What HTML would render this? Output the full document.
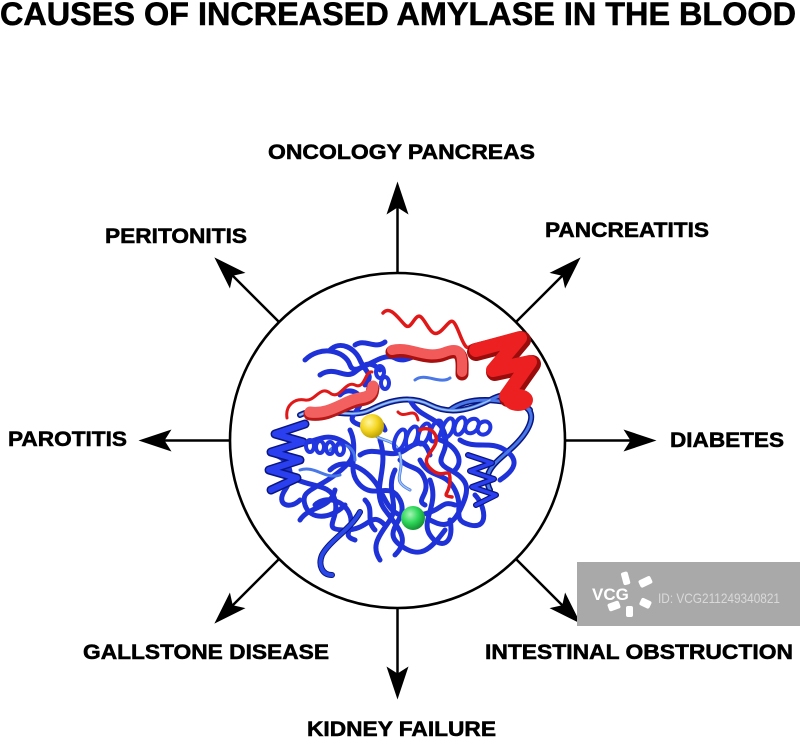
<!DOCTYPE html>
<html><head><meta charset="utf-8"><style>
html,body{margin:0;padding:0;background:#fff;}
svg{display:block;}
text{font-family:"Liberation Sans",Arial,sans-serif;font-weight:bold;fill:#000;}
.lb{stroke:#000;stroke-width:0.55px;}
</style></head><body>
<svg width="800" height="737" viewBox="0 0 800 737" xmlns="http://www.w3.org/2000/svg">
<defs>
<radialGradient id="gy" cx="0.38" cy="0.35" r="0.7"><stop offset="0" stop-color="#fff7a0"/><stop offset="0.5" stop-color="#f5d623"/><stop offset="1" stop-color="#b59a00"/></radialGradient>
<radialGradient id="gg" cx="0.38" cy="0.35" r="0.7"><stop offset="0" stop-color="#a8f5b8"/><stop offset="0.5" stop-color="#2fd85a"/><stop offset="1" stop-color="#118a30"/></radialGradient>
<g id="arr"><line x1="167" y1="0" x2="236" y2="0" stroke="#000" stroke-width="2.5"/><polygon points="259,0 226,-11 233,0 226,11" fill="#000"/></g>
</defs>

<text class="lb" x="0" y="25" font-size="32" textLength="796" lengthAdjust="spacingAndGlyphs">CAUSES OF INCREASED AMYLASE IN THE BLOOD</text>

<g transform="translate(397.5,440.5)">
<circle cx="0" cy="0" r="167.5" fill="none" stroke="#000" stroke-width="2.6"/>
<use href="#arr" transform="rotate(0)"/>
<use href="#arr" transform="rotate(45)"/>
<use href="#arr" transform="rotate(90)"/>
<use href="#arr" transform="rotate(135)"/>
<use href="#arr" transform="rotate(180)"/>
<use href="#arr" transform="rotate(225)"/>
<use href="#arr" transform="rotate(270)"/>
<use href="#arr" transform="rotate(315)"/>
</g>

<text class="lb" x="268" y="159" font-size="21" textLength="267" lengthAdjust="spacingAndGlyphs">ONCOLOGY PANCREAS</text>
<text class="lb" x="105" y="243" font-size="21" textLength="142" lengthAdjust="spacingAndGlyphs">PERITONITIS</text>
<text class="lb" x="545" y="237" font-size="21" textLength="164" lengthAdjust="spacingAndGlyphs">PANCREATITIS</text>
<text class="lb" x="8" y="446" font-size="21" textLength="119" lengthAdjust="spacingAndGlyphs">PAROTITIS</text>
<text class="lb" x="670" y="447" font-size="21" textLength="114" lengthAdjust="spacingAndGlyphs">DIABETES</text>
<text class="lb" x="83" y="659" font-size="21" textLength="246" lengthAdjust="spacingAndGlyphs">GALLSTONE DISEASE</text>
<text class="lb" x="485" y="659" font-size="21" textLength="308" lengthAdjust="spacingAndGlyphs">INTESTINAL OBSTRUCTION</text>
<text class="lb" x="307" y="736" font-size="21" textLength="189" lengthAdjust="spacingAndGlyphs">KIDNEY FAILURE</text>

<!-- protein -->
<g fill="none" stroke-linecap="round" stroke-linejoin="round">
 <g stroke="#0a1680" stroke-width="6">
  <path d="M300,415 C320,405 350,420 370,410 S410,395 430,405 S470,410 490,400 S515,395 530,410"/>
  <path d="M450,410 C470,395 500,400 520,405 S530,430 515,445 S480,470 490,490"/>
 </g>
 <g stroke="#1e32d8" stroke-width="5">
  <path d="M305,360 C320,345 345,350 350,365 S380,350 395,358 S420,345 440,355"/>
  <path d="M330,350 C340,340 355,348 360,360 S375,375 365,385"/>
  <path d="M320,375 C335,365 345,380 355,372 S370,360 380,370"/>
  <path d="M285,470 C300,490 330,480 335,500 S320,530 345,530 S370,510 385,525"/>
  <path d="M330,470 C345,455 370,470 380,490 S395,520 420,515 S440,500 455,505"/>
  <path d="M380,440 C390,470 370,490 385,510 S410,540 395,555"/>
  <path d="M350,430 C360,450 345,470 360,485 S390,480 400,500 S380,530 400,545 S430,550 445,530"/>
  <path d="M410,400 C420,420 440,415 445,435 S430,460 450,470 S470,490 460,510 S440,525 430,520"/>
  <path d="M290,440 C310,450 320,430 340,440 S355,460 335,475 S300,490 305,505 S330,520 345,505"/>
  <path d="M420,460 C430,480 445,470 455,490 S450,520 470,525 S485,505 475,495"/>
  <path d="M395,470 C385,490 400,505 390,520 S370,545 380,560"/>
  <path d="M315,505 C325,495 345,500 350,515 S340,535 355,540"/>
  <path d="M430,480 C440,505 420,520 430,535 S455,545 450,520"/>
  <path d="M340,395 C350,385 365,395 360,405 S345,420 360,425 S380,415 385,430"/>
  <path d="M460,440 C475,450 490,440 505,450 S515,470 500,480"/>
  <path d="M360,455 C375,445 390,460 405,450 S425,440 430,455"/>
  <path d="M300,520 C310,505 330,510 335,490"/>
  <path d="M355,345 C365,338 375,350 385,342"/>
  <path d="M275,455 C290,460 295,475 285,490 S290,510 300,500"/>
  <path d="M400,460 C410,470 420,465 425,480 S415,500 425,505"/>
  <path d="M440,440 C455,445 465,460 455,470"/>
  <path d="M365,500 C375,510 365,520 375,530"/>
 </g>
 <g stroke="#4a78e6" stroke-width="3">
  <path d="M300,415 C320,405 350,420 370,410 S410,395 430,405 S470,410 490,400 S515,395 530,410"/>
  <path d="M450,410 C470,395 500,400 520,405 S530,430 515,445 S480,470 490,490"/>
  <path d="M370,430 C380,445 395,435 400,455 S390,480 410,490"/>
  <path d="M330,450 C340,440 355,445 355,460"/>
  <path d="M300,470 C315,465 325,480 340,475"/>
  <path d="M415,380 C425,372 440,385 450,378"/>
 </g>
 <g stroke="#9cc4f4" stroke-width="1.5">
  <path d="M300,415 C320,405 350,420 370,410 S410,395 430,405 S470,410 490,400"/>
  <path d="M370,430 C380,445 395,435 400,455 S390,480 410,490"/>
 </g>
 <path d="M305,424 l-30,10 l28,8 l-32,10 l29,8 l-31,10 l28,8 l-26,12" stroke="#0a1680" stroke-width="9"/>
 <path d="M305,424 l-30,10 l28,8 l-32,10 l29,8 l-31,10 l28,8 l-26,12" stroke="#2a3ff0" stroke-width="6"/>
 <path d="M468,455 l24,8 l-22,8 l24,8 l-22,8 l24,8 l-20,10" stroke="#0a1680" stroke-width="6"/>
 <path d="M468,455 l24,8 l-22,8 l24,8 l-22,8 l24,8 l-20,10" stroke="#2a3ff0" stroke-width="3.5"/>
 <g stroke="#2236e0" stroke-width="4">
  <ellipse cx="400" cy="440" rx="5" ry="11" transform="rotate(20 400 440)"/>
  <ellipse cx="412" cy="437" rx="5" ry="11" transform="rotate(20 412 437)"/>
  <ellipse cx="424" cy="434" rx="5" ry="11" transform="rotate(20 424 434)"/>
  <ellipse cx="436" cy="431" rx="5" ry="11" transform="rotate(20 436 431)"/>
  <ellipse cx="448" cy="428" rx="5" ry="10" transform="rotate(20 448 428)"/>
  <ellipse cx="460" cy="426" rx="5" ry="9" transform="rotate(20 460 426)"/>
  <ellipse cx="472" cy="426" rx="6" ry="8" transform="rotate(40 472 426)"/>
  <ellipse cx="484" cy="428" rx="6" ry="7" transform="rotate(40 484 428)"/>
  <ellipse cx="310" cy="446" rx="4" ry="6"/>
  <ellipse cx="320" cy="447" rx="4" ry="6"/>
  <ellipse cx="330" cy="448" rx="4" ry="6"/>
  <ellipse cx="340" cy="449" rx="4" ry="6"/>
  <ellipse cx="380" cy="372" rx="4" ry="6"/>
  <ellipse cx="385" cy="383" rx="4" ry="6"/>
 </g>
 <path d="M360,512 C350,530 330,540 322,555 C318,565 322,575 332,575" stroke="#0a1680" stroke-width="6"/>
 <path d="M360,512 C350,530 330,540 322,555 C318,565 322,575 332,575" stroke="#2a48e8" stroke-width="4"/>
 <!-- red parts -->
 <path d="M383,313 C390,305 398,318 405,325 S415,310 422,318 S432,340 442,330 S452,315 460,335 S468,345 475,345" stroke="#e01818" stroke-width="3.5"/>
 <path d="M287,418 C285,405 295,398 305,400 S320,385 330,393 S345,380 355,385 S365,370 372,372" stroke="#e01818" stroke-width="3"/>
 <path d="M420,430 C430,425 440,435 435,445 S420,460 432,470 S450,465 450,480 S440,495 452,497" stroke="#e01818" stroke-width="3.5"/>
 <path d="M398,412 C405,420 415,405 418,420" stroke="#e01818" stroke-width="3"/>
 <path d="M392,352 C410,347 425,362 445,354 S462,364 462,374" stroke="#a81010" stroke-width="13"/>
 <path d="M392,350 C410,345 425,360 445,352 S462,362 462,372" stroke="#f25a5a" stroke-width="10"/>
 <path d="M310,414 C330,417 345,402 360,400 S372,390 373,388" stroke="#b81818" stroke-width="13"/>
 <path d="M310,412 C330,415 345,400 360,398 S372,388 373,386" stroke="#f26060" stroke-width="11"/>
 <path d="M476,352 L522,340 L495,372 L532,364 L508,398" stroke="#9a0c0c" stroke-width="18"/>
 <path d="M476,350 L520,338 L493,370 L530,362 L506,396" stroke="#ec2020" stroke-width="14"/>
 <ellipse cx="518" cy="400" rx="15" ry="11" fill="#ec2020" stroke="none"/>
</g>
<circle cx="372" cy="426" r="12" fill="url(#gy)"/>
<circle cx="413" cy="518" r="12" fill="url(#gg)"/>

<!-- watermark -->
<rect x="577" y="562" width="223" height="64" fill="#a9a9a9"/>
<text x="592" y="600" font-size="17" style="fill:#fff">VCG</text>
<g fill="#fff">
 <rect x="622" y="572" width="7" height="13" rx="2" transform="rotate(-15 625 578)"/>
 <rect x="639" y="578" width="13" height="8" rx="2" transform="rotate(-25 645 582)"/>
 <rect x="640" y="599" width="11" height="8" rx="2" transform="rotate(25 645 603)"/>
 <rect x="626" y="606" width="7" height="11" rx="2"/>
 <rect x="608" y="602" width="12" height="8" rx="2" transform="rotate(-20 614 606)"/>
</g>
<text x="658" y="603" font-size="14" textLength="122" lengthAdjust="spacingAndGlyphs" style="fill:#d9d9d9;font-weight:normal">ID: VCG211249340821</text>
</svg>
</body></html>
